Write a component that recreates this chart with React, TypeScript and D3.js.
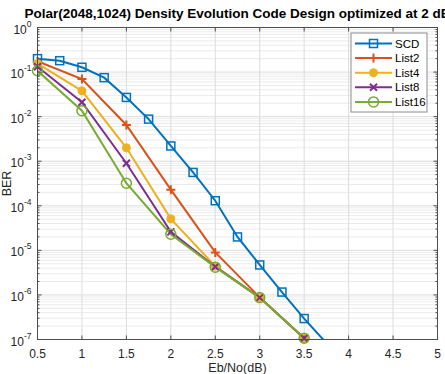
import { useMemo } from 'react';
import * as d3 from 'd3';

// BER curves for a polar(2048,1024) code, SC and list decoders
const SNR_SCD = [0.5, 0.75, 1, 1.25, 1.5, 1.75, 2, 2.25, 2.5, 2.75, 3, 3.25, 3.5, 3.75];
const BER_SCD = [0.2, 0.18, 0.128, 0.075, 0.027, 0.0088, 0.0022, 5.6e-4, 1.3e-4, 2.0e-5, 4.7e-6, 1.16e-6, 2.95e-7, 8.3e-8];

const SNR_LIST = [0.5, 1, 1.5, 2, 2.5, 3, 3.5];
const BER_LIST2 = [0.175, 0.07, 0.0065, 2.3e-4, 9.0e-6, 8.8e-7, 1.07e-7];
const BER_LIST4 = [0.155, 0.038, 0.002, 5.1e-5, 4.4e-6, 8.7e-7, 1.07e-7];
const BER_LIST8 = [0.132, 0.021, 9.0e-4, 2.6e-5, 4.3e-6, 8.7e-7, 1.07e-7];
const BER_LIST16 = [0.107, 0.0136, 3.2e-4, 2.3e-5, 4.2e-6, 8.7e-7, 1.07e-7];

const X_TICKS = [0.5, 1, 1.5, 2, 2.5, 3, 3.5, 4, 4.5, 5];
const Y_EXPONENTS = [0, -1, -2, -3, -4, -5, -6, -7];

const W = 445;
const H = 374;
const M = { top: 27.5, right: 7.5, bottom: 34.5, left: 37.5 };
const FONT = '"Liberation Sans", Arial, Helvetica, sans-serif';

type Marker = 'square' | 'plus' | 'dot' | 'cross' | 'circle';

const SERIES: { name: string; color: string; marker: Marker; x: number[]; y: number[] }[] = [
  { name: 'SCD', color: '#0072BD', marker: 'square', x: SNR_SCD, y: BER_SCD },
  { name: 'List2', color: '#D95319', marker: 'plus', x: SNR_LIST, y: BER_LIST2 },
  { name: 'List4', color: '#EDB120', marker: 'dot', x: SNR_LIST, y: BER_LIST4 },
  { name: 'List8', color: '#7E2F8E', marker: 'cross', x: SNR_LIST, y: BER_LIST8 },
  { name: 'List16', color: '#77AC30', marker: 'circle', x: SNR_LIST, y: BER_LIST16 },
];

function MarkerShape({ kind, cx, cy, color }: { kind: Marker; cx: number; cy: number; color: string }) {
  switch (kind) {
    case 'square':
      return <rect x={cx - 4} y={cy - 4} width={8} height={8} fill="none" stroke={color} strokeWidth={1.5} />;
    case 'plus':
      return <path d={`M${cx - 4.5},${cy}H${cx + 4.5}M${cx},${cy - 4.5}V${cy + 4.5}`} stroke={color} strokeWidth={2} />;
    case 'dot':
      return <circle cx={cx} cy={cy} r={4} fill={color} stroke={color} strokeWidth={1} />;
    case 'cross':
      return <path d={`M${cx - 3.5},${cy - 3.5}L${cx + 3.5},${cy + 3.5}M${cx - 3.5},${cy + 3.5}L${cx + 3.5},${cy - 3.5}`} stroke={color} strokeWidth={2} />;
    default:
      return <circle cx={cx} cy={cy} r={5} fill="none" stroke={color} strokeWidth={1.5} />;
  }
}

export default function App() {
  const innerW = W - M.left - M.right;
  const innerH = H - M.top - M.bottom;

  const x = useMemo(() => d3.scaleLinear().domain([0.5, 5]).range([M.left, M.left + innerW]), [innerW]);
  const y = useMemo(() => d3.scaleLog().domain([1e-7, 1]).range([M.top + innerH, M.top]), [innerH]);

  const line = d3
    .line<[number, number]>()
    .x((d) => x(d[0]))
    .y((d) => y(d[1]));

  // minor log ticks 2..9 inside each decade
  const minor: number[] = [];
  for (let e = -7; e < 0; e++) {
    for (let k = 2; k <= 9; k++) minor.push(k * Math.pow(10, e));
  }

  const x0 = M.left;
  const x1 = M.left + innerW;
  const y0 = M.top;
  const y1 = M.top + innerH;

  const legend = { x: 351, y: 33, w: 76, h: 79 };

  return (
    <svg width={W} height={H} style={{ position: 'absolute', left: 0, top: 0, background: '#fff' }} fontFamily={FONT}>
      <defs>
        <clipPath id="plot-clip">
          <rect x={x0} y={y0} width={innerW} height={innerH} />
        </clipPath>
      </defs>

      {/* grid */}
      <g>
        {minor.map((v) => (
          <line key={`mg${v}`} x1={x0} x2={x1} y1={y(v)} y2={y(v)} stroke="#ebebeb" strokeWidth={1} />
        ))}
        {Y_EXPONENTS.map((e) => (
          <line key={`yg${e}`} x1={x0} x2={x1} y1={y(Math.pow(10, e))} y2={y(Math.pow(10, e))} stroke="#dcdcdc" strokeWidth={1} />
        ))}
        {X_TICKS.map((t) => (
          <line key={`xg${t}`} x1={x(t)} x2={x(t)} y1={y0} y2={y1} stroke="#dcdcdc" strokeWidth={1} />
        ))}
      </g>

      {/* series */}
      <g clipPath="url(#plot-clip)">
        {SERIES.map((s) => (
          <path
            key={s.name}
            d={line(s.x.map((v, i) => [v, s.y[i]] as [number, number])) ?? ''}
            fill="none"
            stroke={s.color}
            strokeWidth={2}
          />
        ))}
      </g>
      <g>
        {SERIES.map((s) =>
          s.x.map((v, i) =>
            s.y[i] >= 1e-7 ? (
              <MarkerShape key={`${s.name}${i}`} kind={s.marker} cx={x(v)} cy={y(s.y[i])} color={s.color} />
            ) : null
          )
        )}
      </g>

      {/* axes box and ticks */}
      <rect x={x0} y={y0} width={innerW} height={innerH} fill="none" stroke="#4d4d4d" strokeWidth={1} />
      <g stroke="#4d4d4d" strokeWidth={1}>
        {X_TICKS.map((t) => (
          <g key={`xt${t}`}>
            <line x1={x(t)} x2={x(t)} y1={y1} y2={y1 - 4} />
            <line x1={x(t)} x2={x(t)} y1={y0} y2={y0 + 4} />
          </g>
        ))}
        {Y_EXPONENTS.map((e) => (
          <g key={`yt${e}`}>
            <line x1={x0} x2={x0 + 4} y1={y(Math.pow(10, e))} y2={y(Math.pow(10, e))} />
            <line x1={x1} x2={x1 - 4} y1={y(Math.pow(10, e))} y2={y(Math.pow(10, e))} />
          </g>
        ))}
        {minor.map((v) => (
          <g key={`mt${v}`}>
            <line x1={x0} x2={x0 + 2} y1={y(v)} y2={y(v)} />
            <line x1={x1} x2={x1 - 2} y1={y(v)} y2={y(v)} />
          </g>
        ))}
      </g>

      {/* tick labels */}
      <g fontSize={12} fill="#262626">
        {X_TICKS.map((t) => (
          <text key={`xl${t}`} x={x(t)} y={y1 + 18} textAnchor="middle">
            {t}
          </text>
        ))}
        {Y_EXPONENTS.map((e) => (
          <text key={`yl${e}`} x={x0 - 6} y={y(Math.pow(10, e)) + 6} textAnchor="end">
            10
            <tspan fontSize={8.5} dy={-7}>
              {e}
            </tspan>
          </text>
        ))}
      </g>

      {/* labels */}
      <text x={(x0 + x1) / 2} y={18} textAnchor="middle" fontSize={13.5} fontWeight="bold" fill="#000">
        Polar(2048,1024) Density Evolution Code Design optimized at 2 dB
      </text>
      <text x={(x0 + x1) / 2} y={372} textAnchor="middle" fontSize={12.5} fill="#262626">
        Eb/No(dB)
      </text>
      <text transform={`translate(11,${(y0 + y1) / 2}) rotate(-90)`} textAnchor="middle" fontSize={12.5} fill="#262626">
        BER
      </text>

      {/* legend */}
      <g>
        <rect x={legend.x} y={legend.y} width={legend.w} height={legend.h} fill="#fff" stroke="#8c8c8c" strokeWidth={1} />
        {SERIES.map((s, i) => {
          const ly = legend.y + 10.5 + i * 14.6;
          return (
            <g key={`lg${s.name}`}>
              <line x1={legend.x + 4} x2={legend.x + 41} y1={ly} y2={ly} stroke={s.color} strokeWidth={2} />
              <MarkerShape kind={s.marker} cx={legend.x + 22.5} cy={ly} color={s.color} />
              <text x={legend.x + 44} y={ly + 4} fontSize={11.5} fill="#000">
                {s.name}
              </text>
            </g>
          );
        })}
      </g>
    </svg>
  );
}
